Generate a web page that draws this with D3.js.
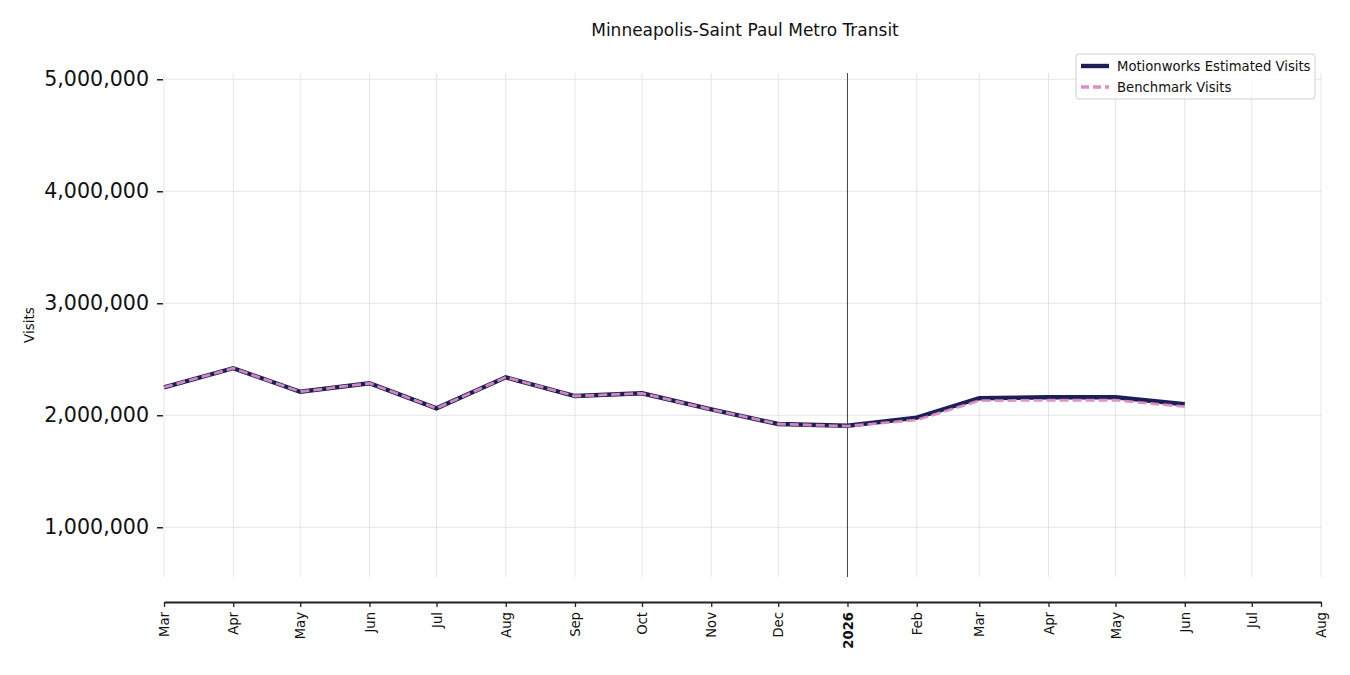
<!DOCTYPE html>
<html>
<head>
<meta charset="utf-8">
<script src="https://cdn.jsdelivr.net/npm/d3@7"></script>
<style>
  body { margin: 0; background: #fff; }
  svg { font-family: "DejaVu Sans", sans-serif; }
</style>
</head>
<body>
<svg id="chart" width="1350" height="675"></svg>
<script>
// monthly data, first of each month
const months = ["2025-03", "2025-04", "2025-05", "2025-06", "2025-07", "2025-08", "2025-09", "2025-10",
  "2025-11", "2025-12", "2026-01", "2026-02", "2026-03", "2026-04", "2026-05", "2026-06"];
const motionworks = [2250000, 2420000, 2210000, 2286000, 2062000, 2339000, 2172000, 2196000,
  2052000, 1922000, 1907000, 1979000, 2152000, 2161000, 2161000, 2098000];
const benchmark = [2250000, 2420000, 2210000, 2286000, 2062000, 2339000, 2172000, 2196000,
  2052000, 1922000, 1903000, 1958000, 2130000, 2134000, 2134000, 2077000];
const yTicks = [1000000, 2000000, 3000000, 4000000, 5000000];
const seriesNames = ["Motionworks Estimated Visits", "Benchmark Visits"];

const parse = d3.timeParse("%Y-%m");
const dates = months.map(parse);

const svg = d3.select("#chart");
const plotL = 164, plotR = 1321, plotT = 73, plotB = 577;

const x = d3.scaleTime()
  .domain([parse("2025-03"), parse("2026-08")])
  .range([plotL, plotR]);
const y = d3.scaleLinear()
  .domain([556000, 5056000])
  .range([plotB, plotT]);

// grid
const xTickDates = d3.timeMonth.range(parse("2025-03"), d3.timeMonth.offset(parse("2026-08"), 1));
svg.append("g").selectAll("line").data(xTickDates).join("line")
  .attr("x1", d => x(d)).attr("x2", d => x(d))
  .attr("y1", plotT).attr("y2", plotB)
  .attr("stroke", "#dedede").attr("stroke-width", 0.8);
svg.append("g").selectAll("line").data(yTicks).join("line")
  .attr("x1", plotL).attr("x2", plotR)
  .attr("y1", d => y(d)).attr("y2", d => y(d))
  .attr("stroke", "#dedede").attr("stroke-width", 0.8);

// year marker
const jan = parse("2026-01");
svg.append("line")
  .attr("x1", x(jan)).attr("x2", x(jan))
  .attr("y1", plotT).attr("y2", plotB)
  .attr("stroke", "#333").attr("stroke-width", 0.9);

// y axis (no spine)
const yAxis = svg.append("g")
  .attr("transform", `translate(${plotL - 1},0)`)
  .call(d3.axisLeft(y).tickValues(yTicks).tickFormat(d3.format(",")).tickSize(6).tickPadding(8));
yAxis.select(".domain").remove();
yAxis.selectAll(".tick line").attr("stroke", "#222").attr("stroke-width", 1.5);
yAxis.selectAll("text").attr("font-size", 20.6).attr("fill", "#111")
  .attr("font-family", "DejaVu Sans");

// x axis, offset below plot
const xAxis = svg.append("g")
  .attr("transform", "translate(0,602)")
  .call(d3.axisBottom(x).tickValues(xTickDates)
    .tickFormat(d => d.getMonth() === 0 ? d3.timeFormat("%Y")(d) : d3.timeFormat("%b")(d))
    .tickSize(5).tickSizeOuter(0));
xAxis.select(".domain").attr("stroke", "#222").attr("stroke-width", 2);
xAxis.selectAll(".tick line").attr("stroke", "#222").attr("stroke-width", 1.3);
xAxis.selectAll("text")
  .attr("font-size", 13.2).attr("fill", "#111").attr("font-family", "DejaVu Sans")
  .attr("transform", "rotate(-90)")
  .attr("text-anchor", "end")
  .attr("x", -10).attr("y", 0).attr("dy", "0.35em")
  .attr("font-weight", d => d.getMonth() === 0 ? "bold" : "normal");

// lines
const line = d3.line().x((d, i) => x(dates[i])).y(d => y(d));
svg.append("path").datum(motionworks)
  .attr("d", line).attr("fill", "none")
  .attr("stroke", "#1c1f57").attr("stroke-width", 4.4).attr("stroke-linejoin", "miter");
svg.append("path").datum(benchmark)
  .attr("d", line).attr("fill", "none")
  .attr("stroke", "#dc8fc0").attr("stroke-opacity", 0.95)
  .attr("stroke-width", 2.8).attr("stroke-dasharray", "9,4");

// title & labels
svg.append("text").attr("x", 745).attr("y", 36).attr("text-anchor", "middle")
  .attr("font-size", 17).attr("fill", "#111").text("Minneapolis-Saint Paul Metro Transit");
svg.append("text").attr("transform", "translate(34,325) rotate(-90)")
  .attr("text-anchor", "middle").attr("font-size", 13.5).attr("fill", "#111").text("Visits");

// legend
const lg = svg.append("g").attr("transform", "translate(1076,54)");
lg.append("rect").attr("width", 239).attr("height", 45).attr("rx", 3)
  .attr("fill", "#fff").attr("fill-opacity", 0.85)
  .attr("stroke", "#d0d0d0").attr("stroke-width", 1);
const legendStyles = [
  { stroke: "#1c1f57", width: 4.4, dash: null },
  { stroke: "#dc8fc0", width: 3.4, dash: "8,4" }
];
seriesNames.forEach((name, i) => {
  const yy = 12 + i * 21;
  lg.append("line").attr("x1", 5).attr("x2", 33).attr("y1", yy).attr("y2", yy)
    .attr("stroke", legendStyles[i].stroke).attr("stroke-width", legendStyles[i].width)
    .attr("stroke-dasharray", legendStyles[i].dash);
  lg.append("text").attr("x", 41).attr("y", yy).attr("dy", "0.35em")
    .attr("font-size", 13.2).attr("fill", "#111").text(name);
});
</script>
</body>
</html>
